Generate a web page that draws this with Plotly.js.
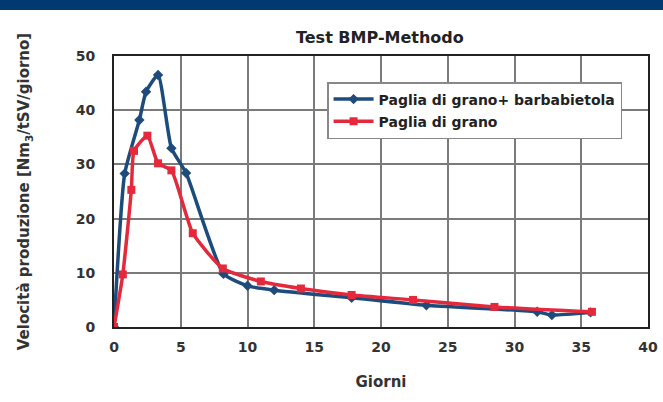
<!DOCTYPE html>
<html><head><meta charset="utf-8">
<script src="https://cdn.plot.ly/plotly-3.0.1.min.js"></script>
<style>body{margin:0;background:#fff}#band{position:absolute;left:0;top:0;width:663px;height:10px;background:#003a70;z-index:5}#chart{width:663px;height:402px}</style>
</head><body><div id="band"></div><div id="chart"></div>
<script>
const blueName = "Paglia di grano+ barbabietola";
const redName = "Paglia di grano";
const blueX = [0, 0.8, 1.9, 2.4, 3.3, 4.3, 5.4, 8.2, 10.0, 12.0, 17.8, 23.4, 31.7, 32.8, 35.7];
const blueY = [0, 28.3, 38.2, 43.4, 46.5, 33.0, 28.4, 9.8, 7.6, 6.8, 5.4, 4.0, 2.8, 2.2, 2.7];
const redX = [0, 0.66, 1.3, 1.5, 2.5, 3.3, 4.3, 5.9, 8.15, 11.0, 14.0, 17.8, 22.4, 28.5, 35.8];
const redY = [0, 9.7, 25.3, 32.5, 35.3, 30.2, 28.9, 17.3, 10.8, 8.4, 7.1, 5.9, 5.0, 3.7, 2.8];
const titleText = "Test BMP-Methodo";
const xTitle = "Giorni";
const yTitle = "Velocità produzione [Nm<sub>3</sub>/tSV/giorno]";
const xTicks = [0,5,10,15,20,25,30,35,40];
const yTicks = [0,10,20,30,40,50];

const F = "DejaVu Sans, sans-serif";
const data = [
 {x: blueX, y: blueY, name: blueName, legendgroup:'a', type:'scatter', mode:'lines+markers',
  line:{color:'#1d4c7c', width:3.5, shape:'spline', smoothing:0.5},
  marker:{symbol:'diamond', size:8, color:'#1d4c7c'}},
 {x: redX, y: redY, name: redName, legendgroup:'b', type:'scatter', mode:'lines+markers',
  line:{color:'#e5293c', width:3.5, shape:'spline', smoothing:0.5},
  marker:{symbol:'square', size:8, color:'#e5293c'}}
];
const layout = {
 width:663, height:402, margin:{l:114, r:15, t:56, b:75},
 paper_bgcolor:'#fff', plot_bgcolor:'#fff',
 font:{family:F, color:'#333', size:14},
 title:{text:'<b>'+titleText+'</b>', x:0.573, xanchor:'center', y:0.908, yanchor:'middle', font:{size:16, color:'#222', family:F}},
 xaxis:{range:[0,40], tickvals:xTicks, ticktext:xTicks.map(v=>'<b>'+v+'</b>'), showgrid:true, gridcolor:'#7a7a7a', gridwidth:1.5,
   zeroline:false, showline:true, mirror:true, linecolor:'#222', linewidth:2, ticks:'', ticklabelstandoff:6,
   title:{text:'<b>'+xTitle+'</b>', font:{size:15, color:'#333'}, standoff:23}, tickfont:{size:14, color:'#333'}},
 yaxis:{range:[0,50], tickvals:yTicks, ticktext:yTicks.map(v=>'<b>'+v+'</b>'), showgrid:true, gridcolor:'#7a7a7a', gridwidth:1.5,
   zeroline:false, showline:true, mirror:true, linecolor:'#222', linewidth:2, ticks:'', ticklabelstandoff:14,
   title:{text:'<b>'+yTitle+'</b>', font:{size:15, color:'#333'}, standoff:42}, tickfont:{size:14, color:'#333'}},
 legend:{x:0.399, y:0.904, xanchor:'left', yanchor:'top', bgcolor:'#fff', bordercolor:'#888', borderwidth:1.5,
   font:{size:14, color:'#222'}, itemwidth:40, tracegroupgap:1},
 showlegend:true
};
data.forEach(d=>d.name='<b>'+d.name+'</b>');
Plotly.newPlot('chart', data, layout, {displayModeBar:false});
</script></body></html>
